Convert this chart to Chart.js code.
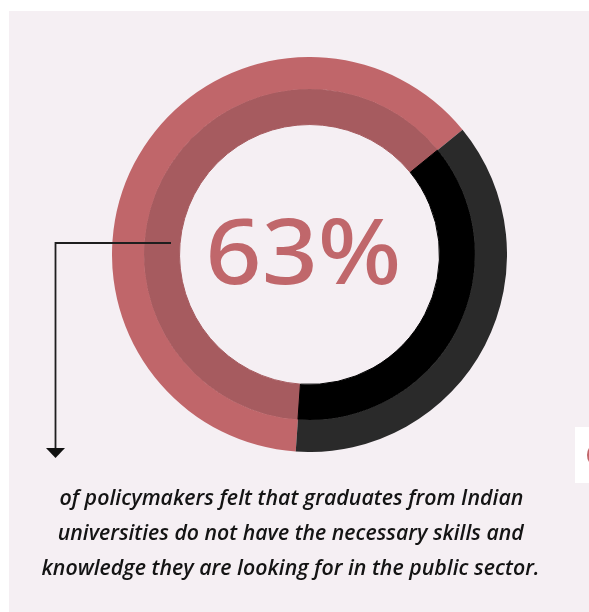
<!DOCTYPE html>
<html>
<head>
<meta charset="utf-8">
<script src="https://cdn.jsdelivr.net/npm/chart.js@4/dist/chart.umd.min.js"></script>
<style>
  html, body { margin: 0; padding: 0; background: #ffffff; width: 589px; height: 612px; overflow: hidden; }
  #panel { position: absolute; left: 9px; top: 11px; right: 0; bottom: 0; background: #f5eff3; }
  #ring { position: absolute; left: 112px; top: 56.5px; width: 395px; height: 395px; }
  #callout { position: absolute; left: 0; top: 0; width: 589px; height: 612px; pointer-events: none; }
  .caption { position: absolute; left: 0; width: 589px; text-align: center; white-space: nowrap;
             font-family: "Open Sans", sans-serif; font-style: italic; font-weight: 600;
             font-size: 21px; color: #141414; line-height: 1; }
  .caption span { display: inline-block; transform-origin: center; }
  #tab { position: absolute; left: 575px; top: 427px; width: 14px; height: 56px; background: #ffffff; overflow: hidden; }
  #tab div { position: absolute; left: 12px; top: 18px; width: 14px; height: 20px; border-radius: 50%; background: #c0666a; }
</style>
</head>
<body>
<div id="panel"></div>
<div id="tab"><div></div></div>
<div id="ring"><canvas id="chart"></canvas></div>
<svg id="callout" viewBox="0 0 589 612">
  <polyline points="171,243 55.5,243 55.5,449" fill="none" stroke="#1e1e1e" stroke-width="1.8"/>
  <polygon points="46,448 65,448 55.5,458" fill="#111111"/>
</svg>
<div class="caption" id="line0"><span></span></div>
<div class="caption" id="line1"><span></span></div>
<div class="caption" id="line2"><span></span></div>
<script>
// Share of policymakers who answered "yes" vs. the rest
const categories = ['Felt graduates lack skills', 'Others'];
const shareValues = [63, 37];
const headline = '63%';
const captionLines = [
  'of policymakers felt that graduates from Indian',
  'universities do not have the necessary skills and',
  'knowledge they are looking for in the public sector.'
];

// Caption placement: top offset and rendered width of each line
const captionLayout = [
  { top: 487, width: 464, cx: 291 },
  { top: 522, width: 466, cx: 291 },
  { top: 557, width: 498, cx: 291 }
];

captionLines.forEach((txt, i) => {
  const box = document.getElementById('line' + i);
  const span = box.querySelector('span');
  span.textContent = txt;
  box.style.top = captionLayout[i].top + 'px';
});

// Big percentage figure in the hole of the ring
const centerLabel = {
  id: 'centerLabel',
  afterDatasetsDraw(chart) {
    const { ctx } = chart;
    const meta = chart.getDatasetMeta(0).data[0];
    const cx = meta.x, cy = meta.y;
    ctx.save();
    ctx.font = '500 90px "Noto Sans", "Open Sans", sans-serif';
    ctx.fillStyle = '#c0676b';
    ctx.textAlign = 'center';
    ctx.textBaseline = 'alphabetic';
    const w = ctx.measureText(headline).width;
    ctx.translate(cx - 6, cy + 29);
    ctx.scale(196 / w, 1);
    ctx.fillText(headline, 0, 0);
    ctx.restore();
  }
};

new Chart(document.getElementById('chart'), {
  type: 'doughnut',
  data: {
    labels: categories,
    datasets: [
      { data: shareValues, backgroundColor: ['#c0666a', '#2a2a2a'], borderWidth: 0, weight: 32 },
      { data: shareValues, backgroundColor: ['#a65b5f', '#000000'],
        borderColor: ['#a65b5f', '#000000'], borderWidth: 1, weight: 35.5 }
    ]
  },
  options: {
    responsive: true,
    maintainAspectRatio: false,
    animation: false,
    rotation: 184,
    cutout: '65.8%',
    layout: { padding: 0 },
    plugins: { legend: { display: false }, tooltip: { enabled: false } },
    events: []
  },
  plugins: [centerLabel]
});

// Fit each caption line to its width
document.fonts.ready.then(() => {
  captionLines.forEach((txt, i) => {
    const box = document.getElementById('line' + i);
    const span = box.querySelector('span');
    const w = span.getBoundingClientRect().width;
    const L = captionLayout[i];
    span.style.transform = 'translateX(' + (L.cx - 294.5) + 'px) scaleX(' + (L.width / w) + ')';
  });
});
</script>
</body>
</html>
